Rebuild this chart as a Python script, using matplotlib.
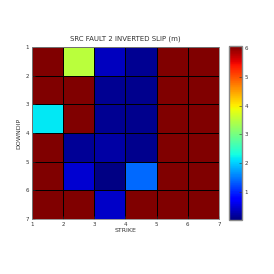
import numpy as np
import matplotlib
matplotlib.use("Agg")
import matplotlib.pyplot as plt

strike_edges = [1, 2, 3, 4, 5, 6, 7]
downdip_edges = [1, 2, 3, 4, 5, 6, 7]
xticks = [1, 2, 3, 4, 5, 6, 7]
yticks = [1, 2, 3, 4, 5, 6, 7]
cbar_ticks = [1, 2, 3, 4, 5, 6]

# slip per cell (rows = downdip 1..6, cols = strike 1..6)
slip_row1 = [6.08, 3.50, 0.35, 0.12, 6.08, 6.08]
slip_row2 = [6.08, 6.08, 0.12, 0.10, 6.08, 6.08]
slip_row3 = [2.15, 6.08, 0.12, 0.10, 6.08, 6.08]
slip_row4 = [6.08, 0.15, 0.20, 0.10, 6.08, 6.08]
slip_row5 = [6.08, 0.45, 0.05, 1.40, 6.08, 6.08]
slip_row6 = [6.08, 6.08, 0.40, 6.08, 6.08, 6.08]

slip = np.array([slip_row1, slip_row2, slip_row3, slip_row4, slip_row5, slip_row6])

fig = plt.figure(figsize=(2.74, 2.74), dpi=100)
ax = fig.add_axes([0.117, 0.201, 0.682, 0.627])
mesh = ax.pcolormesh(strike_edges, downdip_edges, slip, cmap="jet",
                     vmin=0.01, vmax=6.08, edgecolors="black", linewidth=0.6)
ax.set_xlim(1, 7)
ax.set_ylim(7, 1)
ax.set_xticks(xticks)
ax.set_yticks(yticks)
tc = "#333333"
ax.tick_params(direction="in", length=2, width=0.4, labelsize=4, colors=tc, pad=2)
for s in ax.spines.values():
    s.set_color("#888888")
    s.set_linewidth(0.6)
ax.set_xlabel("STRIKE", fontsize=4.5, color=tc, labelpad=1)
ax.set_ylabel("DOWNDIP", fontsize=4.5, color=tc, labelpad=3)
ax.set_title("SRC FAULT 2 INVERTED SLIP (m)", fontsize=5, color=tc, pad=5)

cax = fig.add_axes([0.836, 0.197, 0.047, 0.635])
cb = fig.colorbar(mesh, cax=cax, ticks=cbar_ticks)
cb.ax.tick_params(direction="in", length=2, width=0.4, labelsize=4, colors=tc, pad=2)
cb.outline.set_edgecolor("#888888")
cb.outline.set_linewidth(1.0)

fig.savefig("out.png", dpi=100)
